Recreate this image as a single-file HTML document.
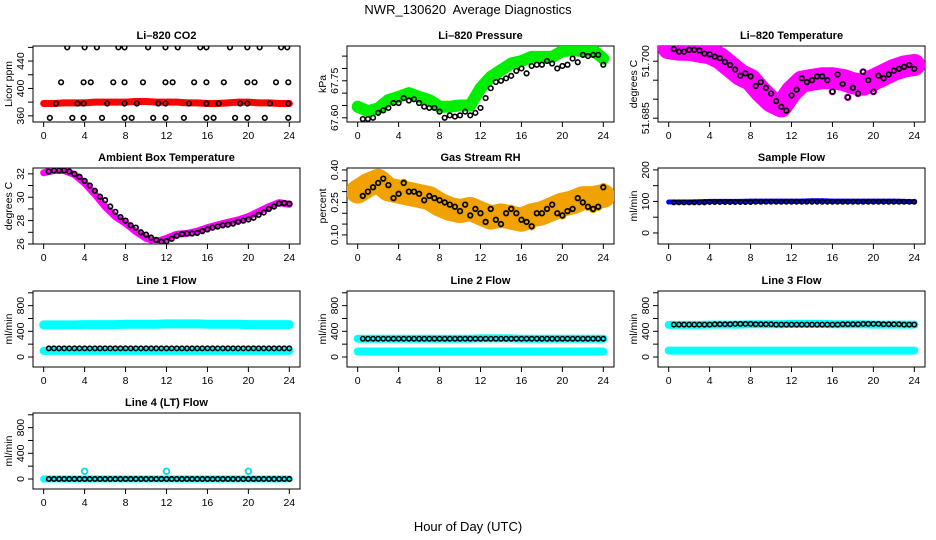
<!DOCTYPE html>
<html><head><meta charset="utf-8"><style>
body{margin:0;background:#fff}
svg{display:block}
text{font-family:"Liberation Sans",sans-serif;fill:#000}
</style></head><body>
<svg id="c" width="936" height="540" viewBox="0 0 936 540">
<text x="468" y="14" font-size="13" text-anchor="middle" style="white-space:pre">NWR_130620  Average Diagnostics</text>
<text x="468" y="531" font-size="13" text-anchor="middle">Hour of Day (UTC)</text>
</svg>
<script>
// ---- data ----
const hourTicks = [0,4,8,12,16,20,24];
const hourly = [0,1,2,3,4,5,6,7,8,9,10,11,12,13,14,15,16,17,18,19,20,21,22,23,24];
const halfHours = [0.5,1,1.5,2,2.5,3,3.5,4,4.5,5,5.5,6,6.5,7,7.5,8,8.5,9,9.5,10,10.5,11,11.5,12,12.5,13,13.5,14,14.5,15,15.5,16,16.5,17,17.5,18,18.5,19,19.5,20,20.5,21,21.5,22,22.5,23,23.5,24];

// CO2
const co2Red = [378,378,379,379,379,380,380,380,380,381,381,380,380,380,379,379,378,378,379,380,380,379,379,378,378];
const co2BlkHours = [2.3,4.0,5.2,7.3,7.9,10.2,11.9,13.1,15.3,15.9,18.2,19.9,21.1,23.2,23.8,
 1.7,3.9,4.6,6.8,7.9,9.7,11.9,12.6,14.7,15.9,17.6,19.9,20.6,22.7,23.9,
 1.2,3.3,3.9,6.2,7.9,9.1,11.2,11.9,14.2,15.9,17.1,19.2,19.9,22.1,23.9,
 0.6,2.8,3.9,5.7,7.9,8.6,10.7,11.9,13.7,15.9,16.6,18.7,19.9,21.6,23.9];
const co2BlkVals = [460,460,460,460,460,460,460,460,460,460,460,460,460,460,460,
 409,409,409,409,409,409,409,409,409,409,409,409,409,409,409,
 378,378,378,378,378,378,378,378,378,378,378,378,378,378,378,
 357,357,357,357,357,357,357,357,357,357,357,357,357,357,357];
// Pressure
const presGreen = [67.645,67.627,67.638,67.672,67.685,67.70,67.685,67.672,67.645,67.645,67.65,67.65,67.72,67.766,67.793,67.82,67.83,67.847,67.847,67.847,67.87,67.874,67.87,67.874,67.84];
const presBlack = [67.595,67.595,67.60,67.62,67.63,67.64,67.66,67.66,67.68,67.67,67.675,67.66,67.645,67.64,67.64,67.625,67.60,67.61,67.605,67.61,67.625,67.61,67.62,67.64,67.68,67.72,67.745,67.75,67.76,67.77,67.79,67.80,67.78,67.81,67.815,67.815,67.83,67.82,67.80,67.81,67.815,67.84,67.825,67.855,67.85,67.855,67.855,67.815];
// Li-820 temperature
const tempMag = [51.7034,51.7030,51.7030,51.7025,51.7021,51.7008,51.6986,51.6964,51.6951,51.6920,51.6894,51.6881,51.6920,51.6946,51.6951,51.6955,51.6955,51.6951,51.6942,51.6938,51.6951,51.6964,51.6977,51.6986,51.6990];
const tempBlack = [51.7032,51.7025,51.7025,51.7030,51.7030,51.7028,51.7020,51.7018,51.7012,51.7008,51.6998,51.6990,51.6978,51.6962,51.6968,51.6960,51.6935,51.6945,51.6930,51.6915,51.6895,51.6880,51.6870,51.6910,51.6925,51.6955,51.6945,51.6950,51.6960,51.6960,51.6950,51.6920,51.6965,51.6940,51.6905,51.6930,51.6915,51.6972,51.6950,51.6920,51.6962,51.6955,51.6965,51.6975,51.6980,51.6985,51.6990,51.6980];
// Ambient box temperature
const ambMag = [32.09,32.29,32.29,31.94,31.2,30.26,29.2,28.34,27.77,27.06,26.49,26.2,26.49,26.83,26.91,27.1,27.4,27.63,27.86,28.06,28.34,28.77,29.2,29.54,29.4];
const ambBlack = [32.2,32.29,32.3,32.3,32.2,32.0,31.75,31.4,31.0,30.55,30.05,29.75,29.2,28.75,28.3,28.0,27.6,27.4,27.0,26.8,26.55,26.35,26.2,26.25,26.45,26.7,26.85,26.9,26.9,26.95,27.1,27.25,27.4,27.5,27.6,27.65,27.75,27.9,28.0,28.1,28.25,28.5,28.7,29.0,29.2,29.45,29.5,29.45];
// Gas stream RH
const rhOrange = [0.30,0.33,0.35,0.31,0.30,0.29,0.28,0.27,0.24,0.22,0.21,0.22,0.20,0.18,0.19,0.18,0.17,0.19,0.20,0.22,0.24,0.25,0.27,0.27,0.28];
const rhBlack = [0.28,0.30,0.32,0.34,0.36,0.33,0.27,0.29,0.34,0.30,0.30,0.29,0.26,0.28,0.27,0.26,0.25,0.24,0.23,0.21,0.24,0.19,0.22,0.20,0.16,0.22,0.17,0.15,0.20,0.22,0.20,0.17,0.16,0.14,0.20,0.20,0.22,0.24,0.20,0.19,0.21,0.22,0.27,0.25,0.23,0.22,0.23,0.32];
// Sample flow
const sampleBlue = [98,98,98,99,100,100,100,100,101,101,101,101,101,101,102,102,101,101,101,101,101,101,101,100,99];
const sampleBlack = [97,97,97,97,97,97,97,98,98,98,98,98,98,98,98,98,99,99,99,99,99,99,99,99,99,99,99,99,99,99,99,99,99,99,99,99,99,99,99,99,99,99,99,99,99,99,99,99];
// Line flows
const l1CyanHi = [500,500,500,500,505,505,505,505,510,510,510,510,515,515,515,515,510,510,510,510,505,505,505,505,505];
const l1CyanLo = [95,95,95,95,95,95,95,95,95,95,95,95,95,95,95,95,95,95,95,95,95,95,95,95,95];
const l1Black = [135,135,135,135,135,135,135,135,135,135,135,135,135,135,135,135,135,135,135,135,135,135,135,135,135];
const l2CyanHi = [285,285,285,285,285,285,285,285,285,285,285,285,290,290,290,290,285,285,285,285,285,285,285,285,285];
const l2CyanLo = [85,85,85,85,85,85,85,85,85,85,85,85,85,85,85,85,85,85,85,85,85,85,85,85,85];
const l2Black = [285,285,285,285,285,285,285,285,285,285,285,285,285,285,285,285,285,285,285,285,285,285,285,285,285];
const l3CyanHi = [500,500,500,500,505,505,505,505,510,510,510,510,515,515,515,515,510,510,510,510,505,505,505,505,505];
const l3CyanLo = [100,100,100,100,100,100,100,100,100,100,100,100,100,100,100,100,100,100,100,100,100,100,100,100,100];
const l3Black = [505,505,505,505,505,505,505,505,510,510,510,510,515,515,515,515,510,510,510,510,505,505,505,505,505];
const l4Cyan = [0,0,0,0,0,0,0,0,0,0,0,0,0,0,0,0,0,0,0,0,0,0,0,0,0];
const l4SpikeHours = [4,12,20];
const l4SpikeVals = [120,120,120];
const l4Black = [0,0,0,0,0,0,0,0,0,0,0,0,0,0,0,0,0,0,0,0,0,0,0,0,0];

// ---- drawing ----
const NS = 'http://www.w3.org/2000/svg';
const svg = document.getElementById('c');
function mk(tag, attrs, parent){const e=document.createElementNS(NS,tag);for(const k in attrs)e.setAttribute(k,attrs[k]);(parent||svg).appendChild(e);return e;}
const colX=[33,347,658], rowY=[46,168,291,413], W=267, H=76;

function panel(col,row,title,ylab,ymin,ymax,yticks,ylabels,name){
  const L=colX[col], T=rowY[row];
  const g=mk('g',{});
  
  
  const xs=h=>L+W*0.04+ (h/24)*W*0.92;
  const ys=v=>T+H-(v-ymin)/(ymax-ymin)*H;
  const t=mk('text',{x:L+W/2,y:T-7,'font-size':11,'font-weight':'bold','text-anchor':'middle'},g);
  t.textContent=title;
  
  
  const box=mk('rect',{x:L,y:T,width:W,height:H,fill:'none',stroke:'#000','stroke-width':1},g);
  
  
  const xa=mk('g',{},g);
  
  
  mk('line',{x1:xs(0),x2:xs(24),y1:T+H,y2:T+H,stroke:'#000'},xa);
  hourTicks.forEach(h=>{
    mk('line',{x1:xs(h),x2:xs(h),y1:T+H,y2:T+H+5,stroke:'#000'},xa);
    const tt=mk('text',{x:xs(h),y:T+H+17,'font-size':10.5,'text-anchor':'middle'},xa);
    tt.textContent=h;
  });
  const ya=mk('g',{},g);
  
  
  yticks.forEach((v,i)=>{
    mk('line',{x1:L-5,x2:L,y1:ys(v),y2:ys(v),stroke:'#000'},ya);
    if(ylabels[i]){
      const tt=mk('text',{x:0,y:0,'font-size':10.5,'text-anchor':'middle',transform:`translate(${L-9},${ys(v)}) rotate(-90)`},ya);
      tt.textContent=ylabels[i];
    }
  });
  const yl=mk('text',{'font-size':10.5,'text-anchor':'middle',transform:`translate(${L-21},${T+H/2}) rotate(-90)`},g);
  yl.textContent=ylab;
  
  
  const clip=mk('clipPath',{id:'cp'+name},g);
  mk('rect',{x:L,y:T,width:W,height:H},clip);
  const d=mk('g',{'clip-path':`url(#cp${name})`},g);
  return {xs,ys,d};
}
function band(p,hours,vals,color,w,nm){
  const pts=hours.map((h,i)=>p.xs(h)+','+p.ys(vals[i])).join(' ');
  const e=mk('polyline',{points:pts,fill:'none',stroke:color,'stroke-width':w,'stroke-linejoin':'round','stroke-linecap':'round'},p.d);
  
  
}
function pts(p,hours,vals,color,r,sw,nm){
  const g=mk('g',{},p.d);
  
  
  hours.forEach((h,i)=>mk('circle',{cx:p.xs(h),cy:p.ys(vals[i]),r:r,fill:'none',stroke:color,'stroke-width':sw},g));
}

// Row 1
let p=panel(0,0,'Li\u2013820 CO2','Licor ppm',351,462,[360,380,400,420,440,460],['360','','400','','440',''],'co2');
band(p,hourly,co2Red,'#ff0000',7,'co2-red-band');
pts(p,hourly,co2Red,'#ff0000',2.5,1.5,'co2-red-points');
pts(p,co2BlkHours,co2BlkVals,'#000',2.3,1.6,'co2-black-points');

p=panel(1,0,'Li\u2013820 Pressure','kPa',67.583,67.891,[67.60,67.65,67.70,67.75,67.80,67.85],['67.60','','','67.75','',''],'pressure');
band(p,hourly,presGreen,'#00ee00',12,'pressure-green-band');
pts(p,hourly,presGreen,'#00ee00',3,1.5,'pressure-green-points');
pts(p,halfHours,presBlack,'#000',2.3,1.6,'pressure-black-points');

p=panel(2,0,'Li\u2013820 Temperature','degrees C',51.684,51.704,[51.685,51.690,51.695,51.700],['51.685','','','51.700'],'li820-temp');
band(p,hourly,tempMag,'#ff00ff',22,'temp-magenta-band');
pts(p,halfHours,tempBlack,'#ff00ff',3,1.5,'temp-magenta-points');
pts(p,halfHours,tempBlack,'#000',2.3,1.7,'temp-black-points');

// Row 2
p=panel(0,1,'Ambient Box Temperature','degrees C',26,32.5,[26,27,28,29,30,31,32],['26','','28','','30','','32'],'ambient');
band(p,hourly,ambMag,'#ff00ff',7,'ambient-magenta-band');
pts(p,halfHours,ambBlack,'#000',2.3,1.7,'ambient-black-points');

p=panel(1,1,'Gas Stream RH','percent',0.058,0.409,[0.10,0.15,0.20,0.25,0.30,0.35,0.40],['0.10','','','0.25','','','0.40'],'rh');
band(p,hourly,rhOrange,'#f2a200',24,'rh-orange-band');
pts(p,halfHours,rhBlack,'#e8a000',3.5,1.5,'rh-orange-points');
pts(p,halfHours,rhBlack,'#000',2.3,1.7,'rh-black-points');

p=panel(2,1,'Sample Flow','ml/min',-35,206,[0,50,100,150,200],['0','','100','','200'],'sample-flow');
band(p,hourly,sampleBlue,'#0000ff',5,'sample-blue-band');
pts(p,halfHours,sampleBlack,'#000',2.2,1.5,'sample-black-points');

// Row 3
const fT=[0,200,400,600,800,1000], fL=['0','','400','','800',''];
p=panel(0,2,'Line 1 Flow','ml/min',-156,1028,fT,fL,'line1');
band(p,hourly,l1CyanHi,'#00ffff',9,'line1-cyan-high');
band(p,hourly,l1CyanLo,'#00ffff',8,'line1-cyan-low');
pts(p,halfHours,l1Black.concat(l1Black).slice(0,48),'#000',2.2,1.6,'line1-black-points');

p=panel(1,2,'Line 2 Flow','ml/min',-156,1028,fT,fL,'line2');
band(p,hourly,l2CyanHi,'#00ffff',8,'line2-cyan-high');
band(p,hourly,l2CyanLo,'#00ffff',8,'line2-cyan-low');
pts(p,halfHours,l2Black.concat(l2Black).slice(0,48),'#000',2.2,1.6,'line2-black-points');

p=panel(2,2,'Line 3 Flow','ml/min',-156,1028,fT,fL,'line3');
band(p,hourly,l3CyanHi,'#00ffff',8,'line3-cyan-high');
band(p,hourly,l3CyanLo,'#00ffff',8,'line3-cyan-low');
pts(p,halfHours,l3Black.concat(l3Black).slice(0,48),'#000',2.2,1.6,'line3-black-points');

// Row 4
p=panel(0,3,'Line 4 (LT) Flow','ml/min',-156,1028,fT,fL,'line4');
band(p,hourly,l4Cyan,'#00ffff',7,'line4-cyan');
pts(p,l4SpikeHours,l4SpikeVals,'#00dddd',2.8,1.8,'line4-cyan-spikes');
pts(p,halfHours,l4Black.concat(l4Black).slice(0,48),'#000',2.2,1.7,'line4-black-points');
</script>
</body></html>
